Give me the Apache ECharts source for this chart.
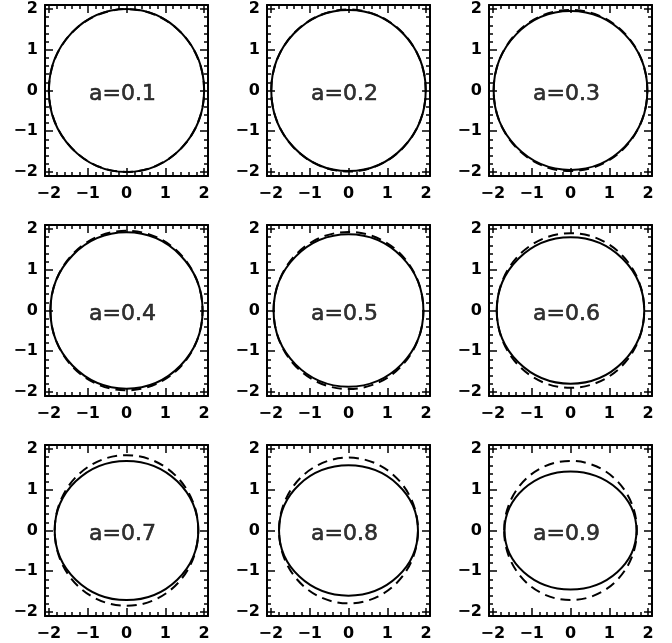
<!DOCTYPE html>
<html>
<head>
<meta charset="utf-8">
<script src="https://cdn.jsdelivr.net/npm/echarts@6/dist/echarts.min.js"></script>
<style>
  html, body { margin: 0; padding: 0; background: #fff; }
  #chart { width: 672px; height: 643px; }
</style>
</head>
<body>
<div id="chart"></div>
<script>
// Spin parameter of each panel
const spinValues = [0.1, 0.2, 0.3, 0.4, 0.5, 0.6, 0.7, 0.8, 0.9];
// Solid curve: equatorial and polar half-axes
const solidHalfWidth  = [2.00, 1.99, 1.98, 1.96, 1.93, 1.90, 1.85, 1.79, 1.70];
const solidHalfHeight = [2.00, 1.98, 1.95, 1.92, 1.87, 1.80, 1.71, 1.60, 1.45];
// Dashed curve: circle radius
const dashedRadius    = [2.00, 1.99, 1.98, 1.96, 1.93, 1.90, 1.85, 1.79, 1.71];
// Axis tick values and their labels
const majorTicks = [-2, -1, 0, 1, 2];
const tickLabels = ['\u22122', '\u22121', '0', '1', '2'];

const AX_MIN = -2.1, AX_MAX = 2.1;
const labelFont = { fontFamily: 'DejaVu Sans', fontWeight: 'bold', fontSize: 16, color: '#000' };

function tickFormatter(v) {
  const i = majorTicks.findIndex(t => Math.abs(t - v) < 1e-6);
  return i >= 0 ? tickLabels[i] : '';
}

const grids = [], xAxes = [], yAxes = [], series = [];

spinValues.forEach((a, p) => {
  const row = Math.floor(p / 3), col = p % 3;
  const box = { left: 45 + col * 222, top: 5 + row * 220, width: 163, height: 171 };
  // major grid (box, long ticks, labels) and minor grid (short ticks) share the box
  grids.push(Object.assign({}, box), Object.assign({}, box));
  const gMajor = 2 * p, gMinor = 2 * p + 1;

  const mk = (grid, position, major, labels) => ({
    type: 'value', gridIndex: grid, position,
    min: AX_MIN, max: AX_MAX, splitNumber: major ? 4 : 21,
    axisLine: { show: major, onZero: false, lineStyle: { color: '#000', width: 2 } },
    axisTick: { show: true, inside: true, length: major ? 8 : 4,
                lineStyle: { color: '#000', width: 1.5 } },
    axisLabel: Object.assign({ show: labels, margin: (position === 'bottom') ? 10 : 7,
                               showMinLabel: false, showMaxLabel: false,
                               formatter: tickFormatter }, labelFont),
    splitLine: { show: false }
  });

  xAxes.push(mk(gMajor, 'bottom', true, true), mk(gMajor, 'top', true, false),
             mk(gMinor, 'bottom', false, false), mk(gMinor, 'top', false, false));
  yAxes.push(mk(gMajor, 'left', true, true), mk(gMajor, 'right', true, false),
             mk(gMinor, 'left', false, false), mk(gMinor, 'right', false, false));

  const xi = 4 * p, yi = 4 * p;

  const ellipseRenderer = dash => (params, api) => {
    const c = api.coord([api.value(0), api.value(1)]);
    const s = api.size([api.value(2), api.value(3)]);
    return {
      type: 'ellipse',
      shape: { cx: c[0], cy: c[1], rx: s[0], ry: s[1] },
      style: { fill: 'none', stroke: '#000', lineWidth: 2, lineDash: dash }
    };
  };

  series.push({
    type: 'custom', xAxisIndex: xi, yAxisIndex: yi, silent: true,
    renderItem: ellipseRenderer([10, 6]),
    data: [[0, 0, dashedRadius[p], dashedRadius[p]]]
  });
  series.push({
    type: 'custom', xAxisIndex: xi, yAxisIndex: yi, silent: true,
    renderItem: ellipseRenderer(null),
    data: [[0, 0, solidHalfWidth[p], solidHalfHeight[p]]]
  });
  series.push({
    type: 'scatter', xAxisIndex: xi, yAxisIndex: yi, silent: true,
    symbolSize: 0, data: [[0, 0]],
    label: { show: true, position: 'inside', offset: [-4, 4],
             formatter: 'a=' + a.toFixed(1),
             fontFamily: 'DejaVu Sans', fontSize: 22, color: '#000',
             textBorderColor: '#000', textBorderWidth: 0.6 }
  });
});

const chart = echarts.init(document.getElementById('chart'), null, { renderer: 'canvas' });
chart.setOption({
  animation: false,
  backgroundColor: '#fff',
  grid: grids, xAxis: xAxes, yAxis: yAxes, series
});
</script>
</body>
</html>
